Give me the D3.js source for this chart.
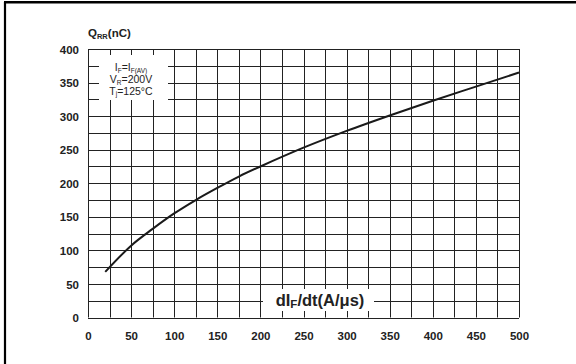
<!DOCTYPE html>
<html><head><meta charset="utf-8">
<script src="https://cdn.jsdelivr.net/npm/d3@7"></script>
<style>body{margin:0;background:#fff}svg{display:block}</style>
</head><body>
<svg id="c" width="576" height="364"></svg>
<script>
const xValues = [20, 50, 75, 100, 125, 150, 175, 200, 250, 300, 350, 400, 450, 500];
const qrrValues = [68, 107, 132, 155, 175, 193, 210, 225, 253, 278, 301, 323, 344, 365];
const xTicks = [0, 50, 100, 150, 200, 250, 300, 350, 400, 450, 500];
const yTicks = [0, 50, 100, 150, 200, 250, 300, 350, 400];
const gridStep = 25;

const svg = d3.select("#c");
const font = "'Liberation Sans', Arial, sans-serif";
const x = d3.scaleLinear().domain([0, 500]).range([88, 519]);
const y = d3.scaleLinear().domain([0, 400]).range([317.5, 49]);

// frame
svg.append("line").attr("x1",5).attr("x2",5).attr("y1",2).attr("y2",364).attr("stroke","#000").attr("stroke-width",2.2);
svg.append("line").attr("x1",4).attr("x2",576).attr("y1",2.2).attr("y2",2.2).attr("stroke","#000").attr("stroke-width",2.4);

// grid
const gx = d3.range(0, 500 + 1, gridStep);
const gy = d3.range(0, 400 + 1, gridStep);
const g = svg.append("g").attr("stroke","#222").attr("stroke-width",1);
g.selectAll(".v").data(gx).join("line")
  .attr("x1", d => Math.round(x(d)) + 0.5).attr("x2", d => Math.round(x(d)) + 0.5)
  .attr("y1", y(0)).attr("y2", y(400));
g.selectAll(".h").data(gy).join("line")
  .attr("y1", d => Math.round(y(d)) + 0.5).attr("y2", d => Math.round(y(d)) + 0.5)
  .attr("x1", x(0)).attr("x2", x(500));

// tick labels via axes
const xAxis = svg.append("g").attr("transform", `translate(0,${y(0)})`)
  .call(d3.axisBottom(x).tickValues(xTicks).tickSize(0).tickPadding(12));
const yAxis = svg.append("g").attr("transform", `translate(${x(0)},0)`)
  .call(d3.axisLeft(y).tickValues(yTicks).tickSize(0).tickPadding(9));
[xAxis, yAxis].forEach(a => {
  a.select(".domain").remove();
  a.selectAll("text").attr("font-family", font).attr("font-weight","bold").attr("font-size", 11.5).attr("fill","#222");
});
yAxis.selectAll("text").attr("dy","0.36em");
xAxis.selectAll("text").attr("dy","0.9em");

// curve
const line = d3.line().x((d,i) => x(xValues[i])).y(d => y(d)).curve(d3.curveCatmullRom.alpha(0.5));
svg.append("path").datum(qrrValues).attr("d", line).attr("fill","none").attr("stroke","#1a1a1a").attr("stroke-width",2);

// condition box
svg.append("rect").attr("x",99).attr("y",55).attr("width",69).attr("height",45).attr("fill","#fff");
const cond = svg.append("g").attr("font-family", font).attr("font-size", 10.5).attr("fill","#222").attr("text-anchor","middle");
const t1 = cond.append("text").attr("x",131).attr("y",71);
t1.append("tspan").text("I");
t1.append("tspan").text("F").attr("font-size",6.5).attr("dy",1.5);
t1.append("tspan").text("=I").attr("dy",-1.5);
t1.append("tspan").text("F(AV)").attr("font-size",6.5).attr("dy",1.5);
const t2 = cond.append("text").attr("x",131).attr("y",83);
t2.append("tspan").text("V");
t2.append("tspan").text("R").attr("font-size",6.5).attr("dy",1.5);
t2.append("tspan").text("=200V").attr("dy",-1.5);
const t3 = cond.append("text").attr("x",131).attr("y",94.5);
t3.append("tspan").text("T");
t3.append("tspan").text("j").attr("font-size",6.5).attr("dy",1.5);
t3.append("tspan").text("=125°C").attr("dy",-1.5);

// y title
const yt = svg.append("text").attr("x",88).attr("y",37).attr("font-family",font).attr("font-weight","bold").attr("font-size",11.5).attr("fill","#222");
yt.append("tspan").text("Q");
yt.append("tspan").text("RR").attr("font-size",7.5).attr("dy",2);
yt.append("tspan").text("(nC)").attr("dy",-2);

// x title
svg.append("rect").attr("x",263).attr("y",289).attr("width",111).attr("height",22).attr("fill","#fff");
const xt = svg.append("text").attr("x",320).attr("y",306).attr("text-anchor","middle").attr("font-family",font).attr("font-weight","bold").attr("font-size",16.5).attr("fill","#222");
xt.append("tspan").text("dI");
xt.append("tspan").text("F").attr("font-size",11.5).attr("dy",2);
xt.append("tspan").text("/dt(A/μs)").attr("dy",-2);
</script>
</body></html>
